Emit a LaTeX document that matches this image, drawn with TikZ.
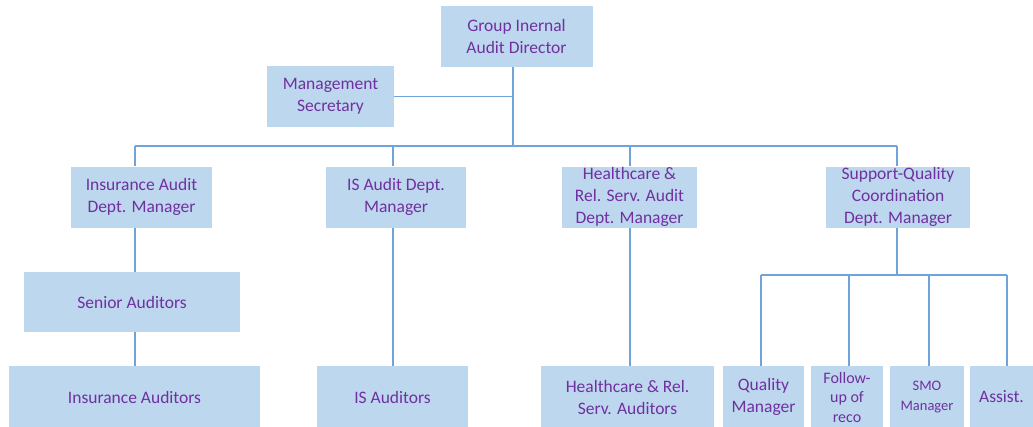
\documentclass[tikz,border=0pt]{standalone}
\usepackage{fontspec}
\setmainfont{Carlito}
\definecolor{boxblue}{HTML}{BDD7EE}
\definecolor{linkblue}{HTML}{6FA3DA}
\definecolor{txtpurple}{HTML}{7030A0}
\tikzset{
  unit/.style={fill=boxblue, text=txtpurple, align=center, inner sep=0pt,
    font=\fontsize{17.5}{22}\selectfont},
  link/.style={draw=linkblue, line width=1.8pt},
}
\begin{document}
\begin{tikzpicture}[x=1pt,y=-1pt]
\useasboundingbox (0,0) rectangle (1033,426);
%%% top level
\node[unit, minimum width=152, minimum height=61] (dir) at (516.5,36) {Group Inernal\\Audit Director};
\node[unit, minimum width=127, minimum height=61] (sec) at (330.5,96.5) {Management\\Secretary};
%%% department managers
\node[unit, minimum width=141, minimum height=61] (insdept) at (141.5,197) {Insurance Audit\\Dept. Manager};
\node[unit, minimum width=140, minimum height=61] (isdept) at (396,197) {IS Audit Dept.\\Manager};
\node[unit, minimum width=135, minimum height=61] (hcdept) at (629.5,197) {Healthcare \&\\Rel. Serv. Audit\\Dept. Manager};
\node[unit, minimum width=144, minimum height=61] (supdept) at (898,197) {Support-Quality\\Coordination\\Dept. Manager};
%%% staff
\node[unit, minimum width=216, minimum height=60] (senior) at (132,302) {Senior Auditors};
\node[unit, minimum width=251, minimum height=62] (insaud) at (134.5,397) {Insurance Auditors};
\node[unit, minimum width=151, minimum height=62] (isaud) at (392.5,397) {IS Auditors};
\node[unit, minimum width=173, minimum height=62] (hcaud) at (627.5,397) {Healthcare \& Rel.\\Serv. Auditors};
\node[unit, minimum width=81, minimum height=62] (quality) at (763.5,397) {Quality\\Manager};
\node[unit, minimum width=72, minimum height=62, font=\fontsize{16}{19.5}\selectfont] (follow) at (847,397) {Follow-\\up of\\reco};
\node[unit, minimum width=74, minimum height=62, font=\fontsize{14.5}{19.5}\selectfont] (smo) at (927,397) {SMO\\Manager};
\node[unit, minimum width=63, minimum height=62] (assist) at (1001.5,397) {Assist.};
%%% bus points
\coordinate (top) at (513,146);
\coordinate (b1) at (135,146);
\coordinate (b2) at (393,146);
\coordinate (b3) at (630,146);
\coordinate (b4) at (897,146);
\coordinate (s0) at (897,275);
\coordinate (s1) at (761,275);
\coordinate (s2) at (849,275);
\coordinate (s3) at (929,275);
\coordinate (s4) at (1007,275);
%%% connectors
\draw[link] (dir.south -| top) -- (top);
\draw[link] (sec.east) -- (sec.east -| top);
\draw[link] (b1) -- (b4);
\draw[link] (b1) -- (b1 |- insdept.north);
\draw[link] (b2) -- (b2 |- isdept.north);
\draw[link] (b3) -- (b3 |- hcdept.north);
\draw[link] (b4) -- (b4 |- supdept.north);
\draw[link] (insdept.south -| b1) -- (b1 |- senior.north);
\draw[link] (senior.south -| b1) -- (b1 |- insaud.north);
\draw[link] (isdept.south -| b2) -- (b2 |- isaud.north);
\draw[link] (hcdept.south -| b3) -- (b3 |- hcaud.north);
\draw[link] (supdept.south -| s0) -- (s0);
\draw[link] (s1) -- (s4);
\draw[link] (s1) -- (s1 |- quality.north);
\draw[link] (s2) -- (s2 |- follow.north);
\draw[link] (s3) -- (s3 |- smo.north);
\draw[link] (s4) -- (s4 |- assist.north);
\end{tikzpicture}
\end{document}
